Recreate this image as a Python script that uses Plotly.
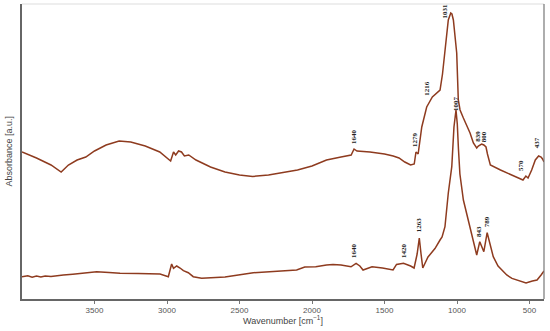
import plotly.graph_objects as go

# ---- Data ----
top_wn = [4000, 3900, 3800, 3730, 3680, 3620, 3560, 3500, 3420, 3330, 3250, 3150, 3050,
          2990, 2975, 2955, 2940, 2920, 2900, 2880, 2850, 2800, 2700, 2600, 2500, 2410,
          2300, 2200, 2100, 2000, 1900, 1800, 1730, 1710, 1690, 1600, 1500, 1440, 1400,
          1360, 1320, 1295, 1283, 1275, 1268, 1243, 1209, 1170, 1140, 1117, 1100, 1083,
          1060, 1043, 1035, 1025, 1002, 991, 979, 956, 933, 910, 887, 864, 853, 841, 830,
          815, 800, 790, 770, 700, 650, 600, 575, 560, 545, 525, 510, 485, 460, 437, 420,
          410, 400]
top_abs = [147, 141, 134, 127, 134, 139, 142, 148, 154, 158, 157, 153, 147,
           139, 138, 147, 144, 148, 147, 143, 144, 139, 132, 127, 124, 122.5,
           124, 126.5, 129, 133, 139, 142, 144, 150, 148, 147, 145, 143, 141,
           137, 134, 135, 147, 146, 145, 172, 192, 202, 206, 209, 225, 246,
           279, 286, 285, 279, 246, 199, 189, 181, 174, 166, 156, 151, 153, 154, 155,
           154, 152, 145, 134, 129, 126, 123, 121, 120, 119, 123, 121, 129, 139, 143, 142,
           140, 137]

bot_wn = [4000, 3960, 3930, 3900, 3870, 3840, 3800, 3760, 3715, 3650, 3600, 3540, 3485,
          3400, 3324, 3200, 3100, 3048, 2991, 2968, 2955, 2933, 2910, 2887, 2853, 2819,
          2761, 2600, 2405, 2200, 2106, 2050, 1974, 1900, 1855, 1800, 1758, 1731, 1696,
          1670, 1648, 1586, 1514, 1441, 1417, 1369, 1320, 1296, 1275, 1260, 1248, 1236,
          1200, 1152, 1117, 1103, 1083, 1060, 1036, 1021, 1007, 998, 990, 980, 956, 933,
          910, 890, 876, 864, 843, 815, 792, 750, 717, 657, 621, 560, 524, 480, 448, 420,
          405, 400]
bot_abs = [22.3, 23.2, 21.8, 22.9, 22.0, 23.0, 22.4, 23.3, 24, 24.8, 25.5, 26.4, 27.3,
           26.5, 25.7, 25.5, 25.3, 25, 22.3, 35, 30.7, 33, 31, 28.3, 26.3, 22.3,
           20.7, 22, 26.3, 28.5, 29, 32, 32.2, 34, 34.6, 34, 33, 32.2, 35.7,
           33, 29, 32.2, 31, 29, 34.6, 35.7, 33, 31, 45, 61, 45, 31,
           42, 50.4, 59, 62, 72.3, 106, 132.3, 172, 189, 175, 150, 125, 99, 85,
           72, 58, 49, 44, 57.3, 47.3, 66.3, 42.3, 33, 24, 20.6, 17.5, 16, 18, 19, 24,
           28, 28]

top_labels = ["1031", "1216", "1279", "1640", "839", "800", "570", "437"]
bot_labels = ["1007", "1263", "1420", "1640", "843", "789"]

x_ticks = [3500, 3000, 2500, 2000, 1500, 1000, 500]

# ---- Label placement (layout only) ----
top_pos = [(1086, 288), (1209, 211), (1290, 160), (1710, 162), (857, 163), (812, 162),
           (559, 134), (446, 156)]
bot_pos = [(1007, 196), (1260, 74), (1365, 48), (1710, 48), (848, 67), (791, 77)]

LINE = "#8E3B1F"

fig = go.Figure()
fig.add_trace(go.Scatter(x=top_wn, y=top_abs, mode="lines",
                         line=dict(color=LINE, width=1.5), hoverinfo="skip"))
fig.add_trace(go.Scatter(x=bot_wn, y=bot_abs, mode="lines",
                         line=dict(color=LINE, width=1.5), hoverinfo="skip"))

annotations = []
for txt, (x, y) in zip(top_labels + bot_labels, top_pos + bot_pos):
    annotations.append(dict(x=x, y=y, xref="x", yref="y", text="<b>%s</b>" % txt,
                            textangle=-90, showarrow=False,
                            font=dict(family="Liberation Serif", size=7, color="#222")))

annotations.append(dict(x=0.5, y=0, xref="paper", yref="paper",
                        text="Wavenumber [cm<sup>−1</sup>]", showarrow=False,
                        yanchor="middle", yshift=-21,
                        font=dict(family="Liberation Sans", size=9, color="#444")))
annotations.append(dict(x=0, y=0.5, xref="paper", yref="paper",
                        text="Absorbance [a.u.]", showarrow=False, textangle=-90,
                        xanchor="center", xshift=-14,
                        font=dict(family="Liberation Sans", size=9, color="#444")))

fig.update_layout(
    width=550, height=331,
    margin=dict(l=22, r=6, t=4, b=32),
    paper_bgcolor="white", plot_bgcolor="white",
    showlegend=False,
    annotations=annotations,
    shapes=[
        dict(type="line", xref="paper", yref="paper", x0=0, x1=1, y0=1, y1=1,
             line=dict(color="#dddddd", width=1)),
        dict(type="line", xref="paper", yref="paper", x0=1, x1=1, y0=0, y1=1,
             line=dict(color="#777777", width=1.2)),
    ],
)
fig.update_xaxes(range=[4000, 400], tickvals=x_ticks, ticks="outside", ticklen=3,
                 tickcolor="#777", tickwidth=1, showgrid=False, zeroline=False,
                 showline=True, linecolor="#666", linewidth=1.5,
                 tickfont=dict(family="Liberation Sans", size=8, color="#555"))
fig.update_yaxes(range=[0, 295], showticklabels=False, ticks="", showgrid=False,
                 zeroline=False, showline=True, linecolor="#666", linewidth=1.5)

fig.write_html("out.html", config={"displayModeBar": False},
               post_script="document.body.style.margin='0';document.body.style.overflow='hidden';")
